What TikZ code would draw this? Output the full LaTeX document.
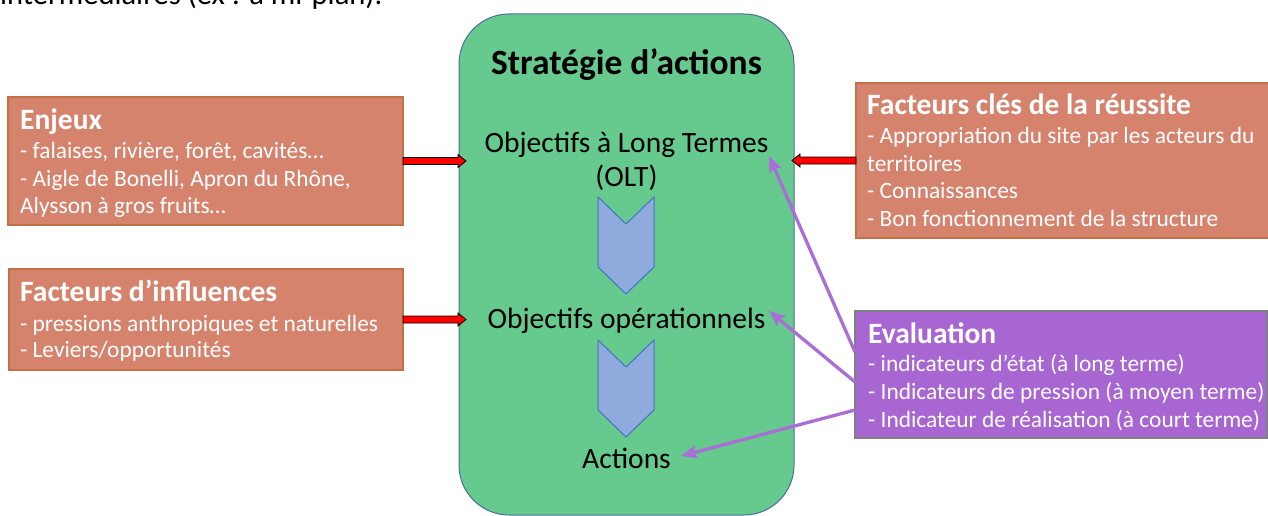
\documentclass[tikz,border=0pt]{standalone}
\usepackage{fontspec}
\setmainfont{Carlito}
\usetikzlibrary{calc,arrows.meta}
\definecolor{salmon}{RGB}{214,131,110}
\definecolor{salmonb}{RGB}{196,112,70}
\definecolor{sgreen}{RGB}{102,201,142}
\definecolor{sgreenb}{RGB}{72,110,160}
\definecolor{chev}{RGB}{143,170,220}
\definecolor{chevb}{RGB}{68,114,196}
\definecolor{purp}{RGB}{168,102,210}
\definecolor{purpb}{RGB}{128,128,128}
\definecolor{purl}{RGB}{170,110,215}
\newcommand\redarrow[3]{%
  \draw[redarr] let \p1=(#1), \p2=(#2) in
    ({\x1},{\y1+3.5pt}) -- ({\x2-(#3)},{\y1+3.5pt}) -- ({\x2-(#3)},{\y1+6.5pt})
    -- ({\x2},{\y1}) -- ({\x2-(#3)},{\y1-6.5pt}) -- ({\x2-(#3)},{\y1-3.5pt})
    -- ({\x1},{\y1-3.5pt}) -- cycle;}
\begin{document}
\begin{tikzpicture}[x=1pt,y=-1pt,
  boxbase/.style={inner sep=0, outer sep=0, anchor=north west, line width=1.2pt},
  salbox/.style={boxbase, fill=salmon, draw=salmonb},
  purbox/.style={boxbase, fill=purp, draw=purpb},
  greenbox/.style={boxbase, fill=sgreen, draw=sgreenb, line width=1pt, rounded corners=50pt},
  chevron/.style={fill=chev, draw=chevb, line width=1pt},
  wt/.style={inner sep=0, anchor=base west, text=white},
  ttl/.style={wt, font=\bfseries\fontsize{29.5}{33}\selectfont},
  bod/.style={wt, font=\fontsize{23.4}{27}\selectfont},
  ctr/.style={inner sep=0, anchor=base, font=\fontsize{29.5}{33}\selectfont},
  ctrtitle/.style={inner sep=0, anchor=base, font=\bfseries\fontsize{35.5}{40}\selectfont},
  redarr/.style={fill=red, draw=black, line width=0.8pt, line join=miter},
  purarr/.style={draw=purl, line width=3.3pt, -{Stealth[length=16pt,width=13pt,inset=3pt]}},
]
\useasboundingbox (0,0) rectangle (1268,516);
\clip (0,0) rectangle (1268,516);

% cut-off text at the top
\node[inner sep=0, anchor=base west, font=\fontsize{30.6}{34}\selectfont] (toptext) at (0,5) {intermédiaires (ex : à mi-plan).};

% central strategy box
\node[greenbox, minimum width=335, minimum height=501] (strat) at (459,14) {};
\node[ctrtitle] (stitle) at (626.5,75) {Stratégie d’actions};
\node[ctr] (olt1) at (626.5,152) {Objectifs à Long Termes};
\node[ctr] (olt2) at (626.5,186) {(OLT)};
\node[ctr] (oop) at (626.5,328) {Objectifs opérationnels};
\node[ctr] (act) at (626.5,468) {Actions};

\draw[chevron] (598,197) -- (626,224) -- (654,197) -- (654,267) -- (626,294) -- (598,267) -- cycle;
\draw[chevron] (598,340) -- (626,367) -- (654,340) -- (654,410) -- (626,437) -- (598,410) -- cycle;

% left boxes
\node[salbox, minimum width=395, minimum height=128] (enjeux) at (8,97) {};
\node[ttl] (enj0) at (20,129) {Enjeux};
\node[bod] (enj1) at (20,158) {- falaises, rivière, forêt, cavités…};
\node[bod] (enj2) at (20,186) {- Aigle de Bonelli, Apron du Rhône,};
\node[bod] (enj3) at (20,213) {Alysson à gros fruits…};

\node[salbox, minimum width=394, minimum height=101] (infl) at (9,269) {};
\node[ttl] (inf0) at (20,301) {Facteurs d’influences};
\node[bod] (inf1) at (20,331) {- pressions anthropiques et naturelles};
\node[bod] (inf2) at (20,357) {- Leviers/opportunités};

% right boxes
\node[salbox, minimum width=420, minimum height=155] (cles) at (856,83) {};
\node[ttl] (cle0) at (867,115) {Facteurs clés de la réussite};
\node[bod] (cle1) at (867,143) {- Appropriation du site par les acteurs du};
\node[bod] (cle2) at (867,171) {territoires};
\node[bod] (cle3) at (867,198) {- Connaissances};
\node[bod] (cle4) at (867,226) {- Bon fonctionnement de la structure};

\node[purbox, minimum width=412, minimum height=127] (eval) at (855,311) {};
\node[ttl] (ev0) at (868,343) {Evaluation};
\node[bod] (ev1) at (868,371) {- indicateurs d’état (à long terme)};
\node[bod] (ev2) at (868,399) {- Indicateurs de pression (à moyen terme)};
\node[bod] (ev3) at (868,427) {- Indicateur de réalisation (à court terme)};

% red block arrows
\coordinate (tipA) at ($(strat.west |- enjeux.east)+(7,0)$);
\coordinate (tipB) at ($(strat.west |- infl.east)+(7,0)$);
\coordinate (tipC) at ($(strat.east |- cles.west)+(-2,0)$);
\redarrow{enjeux.east}{tipA}{8pt}
\redarrow{infl.east}{tipB}{8pt}
\redarrow{cles.west}{tipC}{-8pt}

% purple evaluation arrows
\coordinate (pe1) at (769,156);
\coordinate (pe2) at (769,311);
\coordinate (pe3) at (681,456);
\draw[purarr] ($(eval.west)+(0,-22.5)$) -- (pe1);
\draw[purarr] ($(eval.west)+(0,7.5)$) -- (pe2);
\draw[purarr] ($(eval.west)+(0,35.5)$) -- (pe3);
\end{tikzpicture}
\end{document}
